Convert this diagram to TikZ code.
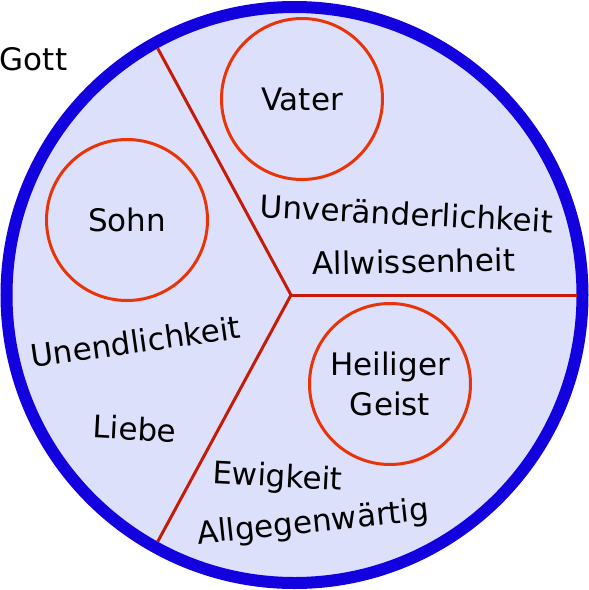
\documentclass[tikz,border=0pt]{standalone}
\usepackage{fontspec}
\setmainfont{DejaVu Sans}
\definecolor{godblue}{RGB}{18,0,222}
\definecolor{godfill}{RGB}{221,224,250}
\definecolor{personred}{RGB}{232,52,8}
\definecolor{divred}{RGB}{196,28,8}

\begin{document}
\begin{tikzpicture}[x=1pt, y=-1pt,
  god/.style={circle, draw=godblue, fill=godfill, line width=12pt,
    minimum size=576pt, inner sep=0pt, outer sep=0pt},
  person/.style={circle, draw=personred, line width=3pt, minimum size=161pt,
    inner sep=0pt, align=center, font=\fontsize{31}{40}\selectfont},
  attr/.style={anchor=base, inner sep=0pt, font=\fontsize{31}{36}\selectfont},
  divider/.style={draw=divred, line width=3pt, shorten >=6pt}
]
\useasboundingbox (0,0) rectangle (589,590);
\node[god] (gott) at (294.5,295) {};
\coordinate (mid) at (291,295);
\draw[divider] (mid) -- (gott.119);
\draw[divider] (mid) -- (gott.0);
\draw[divider] (mid) -- (gott.241);
\node[attr] (gottlabel) at (33.5,70) {Gott};
\node[person] (vater) at (302,99) {Vater};
\node[person] (sohn) at (127,220) {Sohn};
\node[person] (geist) at (390,384) {Heiliger\\Geist};
% Eigenschaften
\node[attr, rotate=-3] (unver) at (406,225) {Unveränderlichkeit};
\node[attr, rotate=1] (allwiss) at (414,273) {Allwissenheit};
\node[attr, rotate=8] (unend) at (137,353) {Unendlichkeit};
\node[attr, rotate=-3] (liebe) at (134,440) {Liebe};
\node[attr, rotate=-3] (ewig) at (277,487) {Ewigkeit};
\node[attr, rotate=6] (allgeg) at (314,532) {Allgegenwärtig};
\end{tikzpicture}
\end{document}
